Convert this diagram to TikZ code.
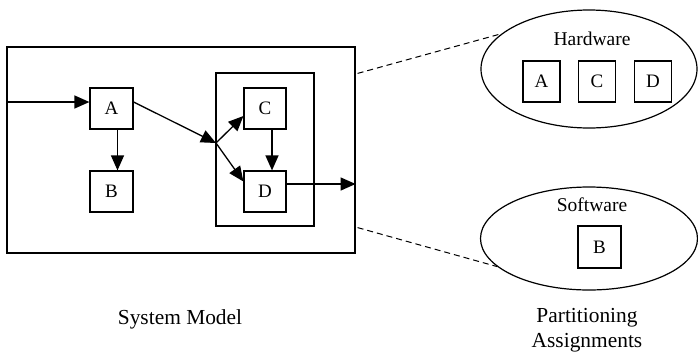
\documentclass[tikz,border=0pt]{standalone}
\usepackage{fontspec}
\setmainfont{Liberation Serif}
\usetikzlibrary{arrows.meta,shapes.geometric}

\tikzset{
  blk/.style={draw, line width=1.2pt, minimum width=42pt, minimum height=41pt,
              inner sep=0pt, font=\fontsize{19}{21}\selectfont},
  pblk/.style={blk, minimum width=37pt},
  frame/.style={draw, line width=1.2pt, inner sep=0pt},
  arr/.style={line width=1.3pt, -{Triangle[length=15pt,width=13pt]}},
  part/.style={draw, ellipse, line width=1.2pt, inner sep=0pt},
  link/.style={line width=1pt, dash pattern=on 6pt off 4pt},
  lbl/.style={font=\fontsize{19.5}{22}\selectfont, inner sep=0pt, anchor=base},
  captext/.style={font=\fontsize{21.4}{25}\selectfont, inner sep=0pt, anchor=base}
}

\begin{document}
\begin{tikzpicture}[x=1pt,y=-1pt]
\useasboundingbox (0,0) rectangle (698,354);

% system model frame and the inner group
\node[frame, minimum width=348pt, minimum height=206pt] (sys) at (181,150) {};
\node[frame, minimum width=98pt, minimum height=153pt] (grp) at (265,149.5) {};

% tasks
\node[blk, minimum width=43pt] (A) at (111.5,108.5) {A};
\node[blk, minimum width=43pt] (B) at (111.5,191.5) {B};
\node[blk] (C) at (265,108.5) {C};
\node[blk] (D) at (265,191.5) {D};

\coordinate (in) at (7,102);
\coordinate (J) at (216,143);

% data flow
\draw[arr] (in) -- (in -| A.west);
\draw[arr] ([yshift=6.5pt]A.east) -- (J);
\draw[arr] (J) -- ([yshift=-7.5pt]C.west);
\draw[arr] (J) -- ([yshift=10pt]D.west);
\draw[arr] ([xshift=6pt]A.south) -- ([xshift=6pt]B.north);
\draw[arr] ([xshift=7pt]C.south) -- ([xshift=7pt]D.north);
\draw[arr] ([yshift=7.5pt]D.east) -- ([yshift=7.5pt]D.east -| sys.east);

% partitions
\node[part, minimum width=216pt, minimum height=118pt] (hw) at (589,69) {};
\node[part, minimum width=217pt, minimum height=103pt] (sw) at (589,238.5) {};

\node[lbl] (hwl) at (592,45) {Hardware};
\node[pblk] (hA) at (541.5,81.5) {A};
\node[pblk] (hC) at (597,81.5) {C};
\node[pblk] (hD) at (653,81.5) {D};

\node[lbl] (swl) at (592,211) {Software};
\node[blk, minimum width=43pt, minimum height=42pt] (sB) at (599.5,247) {B};

% mapping of the model onto the partitions
\coordinate (m1) at ([xshift=2pt,yshift=-27pt]sys.north east);
\coordinate (m2) at ([xshift=2pt,yshift=26pt]sys.south east);
\draw[link] (m1) -- (hw.158);
\draw[link] (m2) -- (sw.197);

% captions
\node[captext] (sm) at (180,324) {System Model};
\node[captext] (pa) at (587,322) {Partitioning};
\node[captext] (pb) at (587,347) {Assignments};
\end{tikzpicture}
\end{document}
